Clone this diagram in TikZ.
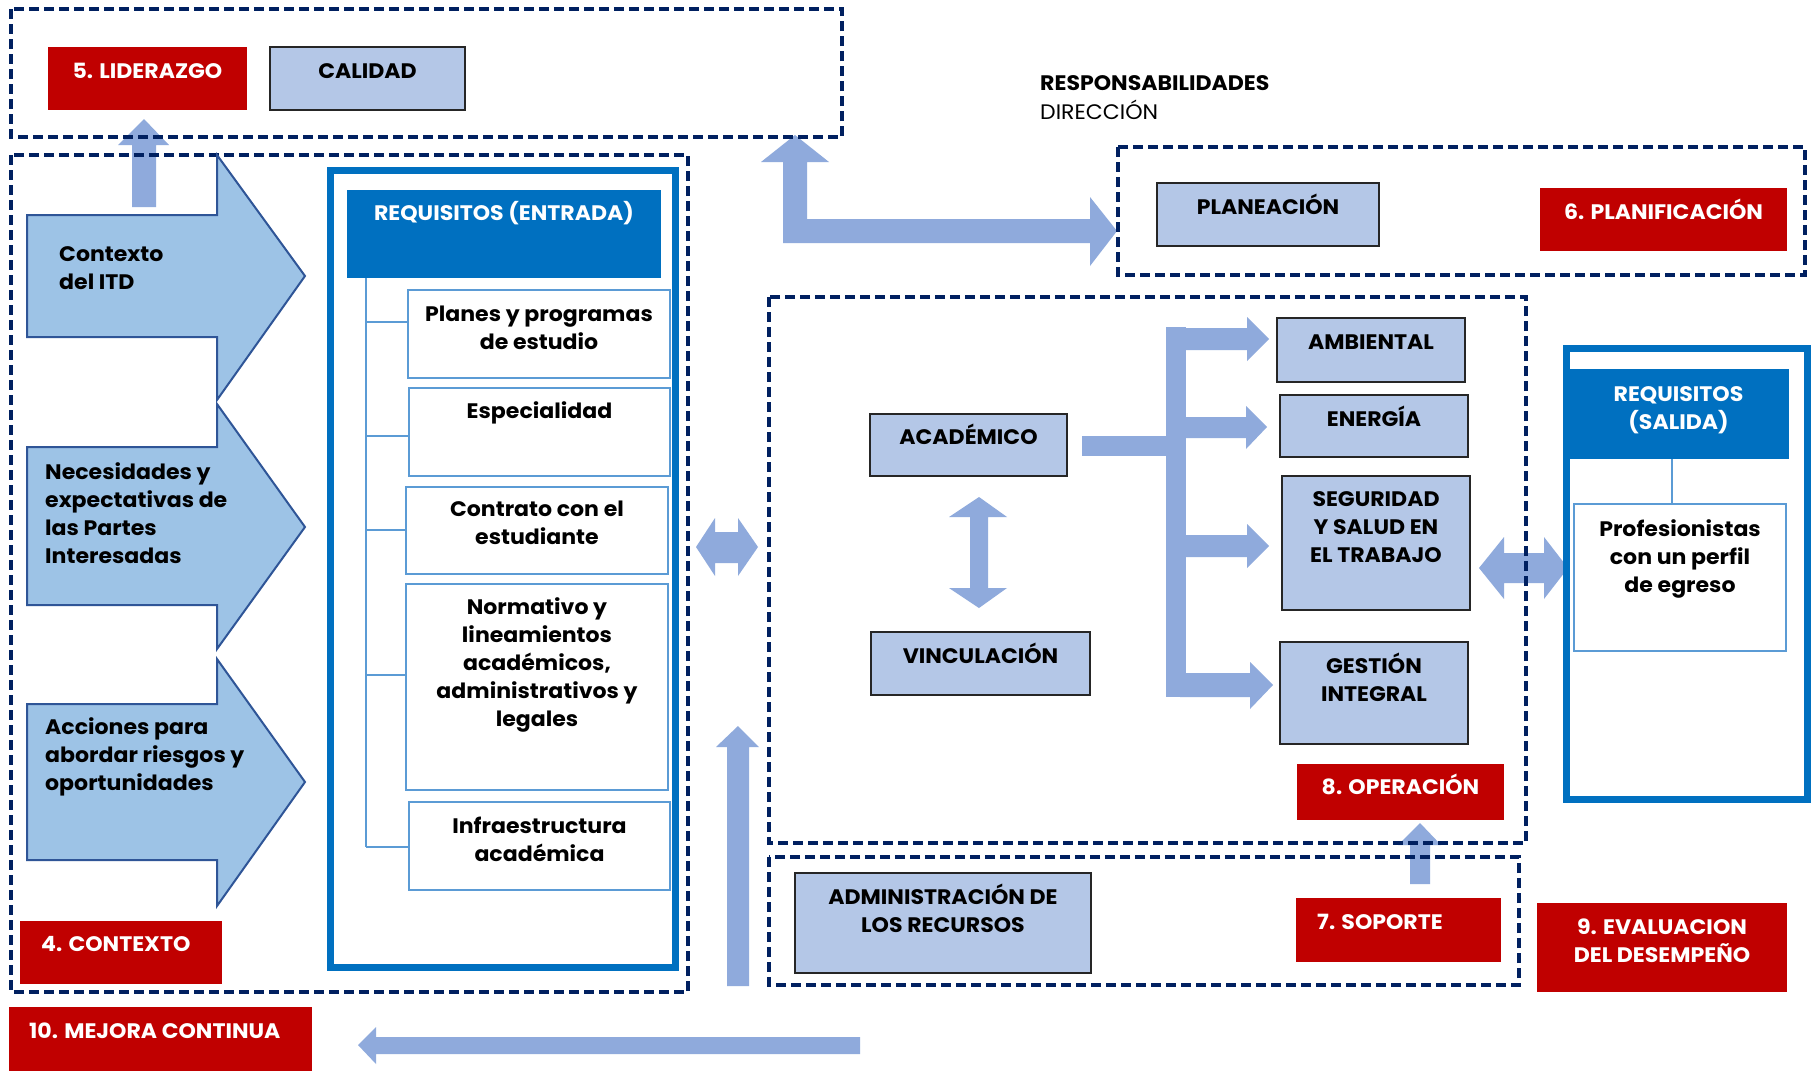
\documentclass[tikz,border=0pt]{standalone}
\usepackage{fontspec}
\setmainfont{Poppins}[FakeStretch=1.05]
\definecolor{navy}{HTML}{002060}
\definecolor{redc}{HTML}{C00000}
\definecolor{boxblue}{HTML}{B4C7E7}
\definecolor{arrowblue}{HTML}{8FAADC}
\definecolor{chevfill}{HTML}{9DC3E6}
\definecolor{chevline}{HTML}{2F5597}
\definecolor{strongblue}{HTML}{0070C0}
\definecolor{treeblue}{HTML}{5B9BD5}
\newcommand{\bx}[6]{\node[#6, minimum width={#4-#2}, minimum height={#5-#3}, inner sep=0pt, outer sep=0pt] (#1) at ({(#2+#4)/2},{(#3+#5)/2}) {};}
\begin{document}
\begin{tikzpicture}[x=1pt,y=-1pt,
  dashbox/.style={draw=navy, line width=3.5pt, dash pattern=on 10pt off 5pt},
  redbox/.style={fill=redc, draw=none},
  lbbox/.style={fill=boxblue, draw=black!85, line width=1.5pt},
  hdrbox/.style={fill=strongblue, draw=none},
  wbox/.style={draw=treeblue, line width=1.5pt, fill=white},
  blockarrow/.style={fill=arrowblue, draw=none},
  chev/.style={fill=chevfill, draw=chevline, line width=2pt, line join=miter},
  thickblue/.style={draw=strongblue, line width=7pt},
  tree/.style={draw=treeblue, line width=1.5pt},
  txt/.style={font=\fontsize{21}{28}\selectfont\bfseries, align=center, anchor=base, inner sep=0pt},
  ltxt/.style={txt, align=left, anchor=base west},
  wtxt/.style={txt, text=white},
  wltxt/.style={ltxt, text=white}]
\useasboundingbox (0,0) rectangle (1815,1071);
\fill[white] (0,0) rectangle (1815,1071);

% ---------- block arrows ----------
% Contexto -> Liderazgo
\fill[blockarrow] (132,207) -- (132,145) -- (118,145) -- (144,119) -- (169,145) -- (156,145) -- (156,207) -- cycle;
% L arrow Liderazgo <-> Planificacion
\fill[blockarrow] (783,243) -- (783,162) -- (761,162) -- (795,135) -- (829,162) -- (807,162) -- (807,219) -- (1090,219) -- (1090,197) -- (1117,231) -- (1090,266) -- (1090,243) -- cycle;
% double arrow context <-> operation
\fill[blockarrow] (696,547) -- (715,518) -- (715,532) -- (738,532) -- (738,518) -- (758,547) -- (738,576) -- (738,563) -- (715,563) -- (715,576) -- cycle;
% mejora up arrow
\fill[blockarrow] (727,986) -- (727,747) -- (716,747) -- (738,726) -- (759,747) -- (749,747) -- (749,986) -- cycle;
% bottom left arrow
\fill[blockarrow] (860,1037) -- (376,1037) -- (376,1027) -- (358,1045) -- (376,1064) -- (376,1054) -- (860,1054) -- cycle;
% academico <-> vinculacion
\fill[blockarrow] (979,497) -- (1007,517) -- (988,517) -- (988,588) -- (1007,588) -- (979,608) -- (949,588) -- (970,588) -- (970,517) -- (949,517) -- cycle;
% trunk and branches
\fill[blockarrow] (1082,436) rectangle (1176,456);
\fill[blockarrow] (1166,327) rectangle (1186,697);
\fill[blockarrow] (1180,328) -- (1247,328) -- (1247,317) -- (1269,339) -- (1247,361) -- (1247,350) -- (1180,350) -- cycle;
\fill[blockarrow] (1180,417) -- (1246,417) -- (1246,406) -- (1267,427) -- (1246,449) -- (1246,438) -- (1180,438) -- cycle;
\fill[blockarrow] (1180,535) -- (1247,535) -- (1247,524) -- (1269,546) -- (1247,568) -- (1247,557) -- (1180,557) -- cycle;
\fill[blockarrow] (1180,673) -- (1250,673) -- (1250,662) -- (1273,685) -- (1250,709) -- (1250,697) -- (1180,697) -- cycle;
% seguridad <-> salida
\fill[blockarrow] (1479,568) -- (1504,537) -- (1504,553) -- (1544,553) -- (1544,537) -- (1568,568) -- (1544,599) -- (1544,583) -- (1504,583) -- (1504,599) -- cycle;
% soporte -> operacion
\fill[blockarrow] (1410,884) -- (1410,845) -- (1398,845) -- (1420,823) -- (1441,845) -- (1430,845) -- (1430,884) -- cycle;

% ---------- dashed group boxes ----------
\draw[dashbox] (11,9) rectangle (842,137);
\draw[dashbox] (11,155) rectangle (688,992);
\draw[dashbox] (1118,147) rectangle (1805,275);
\draw[dashbox] (769,297) rectangle (1526,843);
\draw[dashbox] (769,857) rectangle (1519,985);

% ---------- chevron arrows ----------
\draw[chev] (27,215) -- (217,215) -- (217,155) -- (305,276) -- (217,400) -- (217,337) -- (27,337) -- cycle;
\draw[chev] (27,447) -- (217,447) -- (217,404) -- (305,527) -- (217,649) -- (217,605) -- (27,605) -- cycle;
\draw[chev] (27,704) -- (217,704) -- (217,659) -- (305,782) -- (217,906) -- (217,860) -- (27,860) -- cycle;
\node[ltxt] (ctx) at (59,289) {Contexto\\del ITD};
\node[ltxt] (nec) at (45,563) {Necesidades y\\expectativas de\\las Partes\\Interesadas};
\node[ltxt] (acc) at (45,790) {Acciones para\\abordar riesgos y\\oportunidades};

% ---------- thick blue frames ----------
\draw[thickblue] (330.5,170.5) rectangle (675.5,967.5);
\draw[thickblue] (1566.5,348.5) rectangle (1807.5,799.5);

% ---------- red boxes ----------
\bx{lid}{48}{47}{247}{110}{redbox}
\node[wtxt] at (147.5,78) {5. LIDERAZGO};
\bx{plan}{1540}{188}{1787}{251}{redbox}
\node[wtxt] at (1663.5,219) {6. PLANIFICACIÓN};
\bx{oper}{1297}{764}{1504}{820}{redbox}
\node[wtxt] at (1400.5,794) {8. OPERACIÓN};
\bx{sop}{1296}{898}{1501}{962}{redbox}
\node[wltxt] at (1317,929) {7. SOPORTE};
\bx{eval}{1537}{903}{1787}{992}{redbox}
\node[wtxt] at (1662,962) {9. EVALUACION\\DEL DESEMPEÑO};
\bx{cont}{20}{921}{222}{984}{redbox}
\node[wltxt] at (41,951) {4. CONTEXTO};
\bx{mej}{9}{1007}{312}{1071}{redbox}
\node[wltxt] at (29,1038) {10. MEJORA CONTINUA};

% ---------- light blue boxes ----------
\bx{cal}{270}{47}{465}{110}{lbbox}
\node[txt] at (367.5,78) {CALIDAD};
\bx{plane}{1157}{183}{1379}{246}{lbbox}
\node[txt] at (1268,214) {PLANEACIÓN};
\bx{acad}{870}{414}{1067}{476}{lbbox}
\node[txt] at (968.5,444) {ACADÉMICO};
\bx{vinc}{871}{632}{1090}{695}{lbbox}
\node[txt] at (980.5,663) {VINCULACIÓN};
\bx{amb}{1277}{318}{1465}{382}{lbbox}
\node[txt] at (1371,349) {AMBIENTAL};
\bx{ene}{1280}{395}{1468}{457}{lbbox}
\node[txt] at (1374,426) {ENERGÍA};
\bx{seg}{1282}{476}{1470}{610}{lbbox}
\node[txt] at (1376,562) {SEGURIDAD\\Y SALUD EN\\EL TRABAJO};
\bx{ges}{1280}{642}{1468}{744}{lbbox}
\node[txt] at (1374,701) {GESTIÓN\\INTEGRAL};
\bx{adm}{795}{873}{1091}{973}{lbbox}
\node[txt] at (943,932) {ADMINISTRACIÓN DE\\LOS RECURSOS};

% ---------- responsabilidades ----------
\node[ltxt] (resp) at (1040,90) {RESPONSABILIDADES};
\node[ltxt, font=\fontsize{21}{28}\selectfont] (dir) at (1040,119) {DIRECCIÓN};

% ---------- requisitos entrada ----------
\bx{reqin}{347}{190}{661}{278}{hdrbox}
\node[wtxt] at (504,220) {REQUISITOS (ENTRADA)};
\coordinate (trunkTop) at (366,278);
\coordinate (trunkBot) at (366,847);
\draw[tree] (trunkTop) -- (trunkBot);
\bx{pla}{408}{290}{670}{378}{wbox}
\bx{esp}{409}{388}{670}{476}{wbox}
\bx{con}{406}{487}{668}{574}{wbox}
\bx{nor}{406}{584}{668}{790}{wbox}
\bx{inf}{409}{802}{670}{890}{wbox}
\draw[tree] (366,322) -- (pla.west |- 0,322);
\draw[tree] (366,436) -- (esp.west |- 0,436);
\draw[tree] (366,530) -- (con.west |- 0,530);
\draw[tree] (366,675) -- (nor.west |- 0,675);
\draw[tree] (366,847) -- (inf.west |- 0,847);
\node[txt] at (539,349) {Planes y programas\\de estudio};
\node[txt] at (539.5,418) {Especialidad};
\node[txt] at (537,544) {Contrato con el\\estudiante};
\node[txt] at (537,726) {Normativo y\\lineamientos\\académicos,\\administrativos y\\legales};
\node[txt] at (539.5,861) {Infraestructura\\académica};

% ---------- requisitos salida ----------
\bx{reqout}{1568}{369}{1789}{459}{hdrbox}
\node[wtxt] at (1678.5,429) {REQUISITOS\\(SALIDA)};
\bx{prof}{1574}{504}{1786}{651}{wbox}
\draw[tree] (reqout.south -| 1672,0) -- (prof.north -| 1672,0);
\node[txt] at (1680,592) {Profesionistas\\con un perfil\\de egreso};
\end{tikzpicture}
\end{document}
